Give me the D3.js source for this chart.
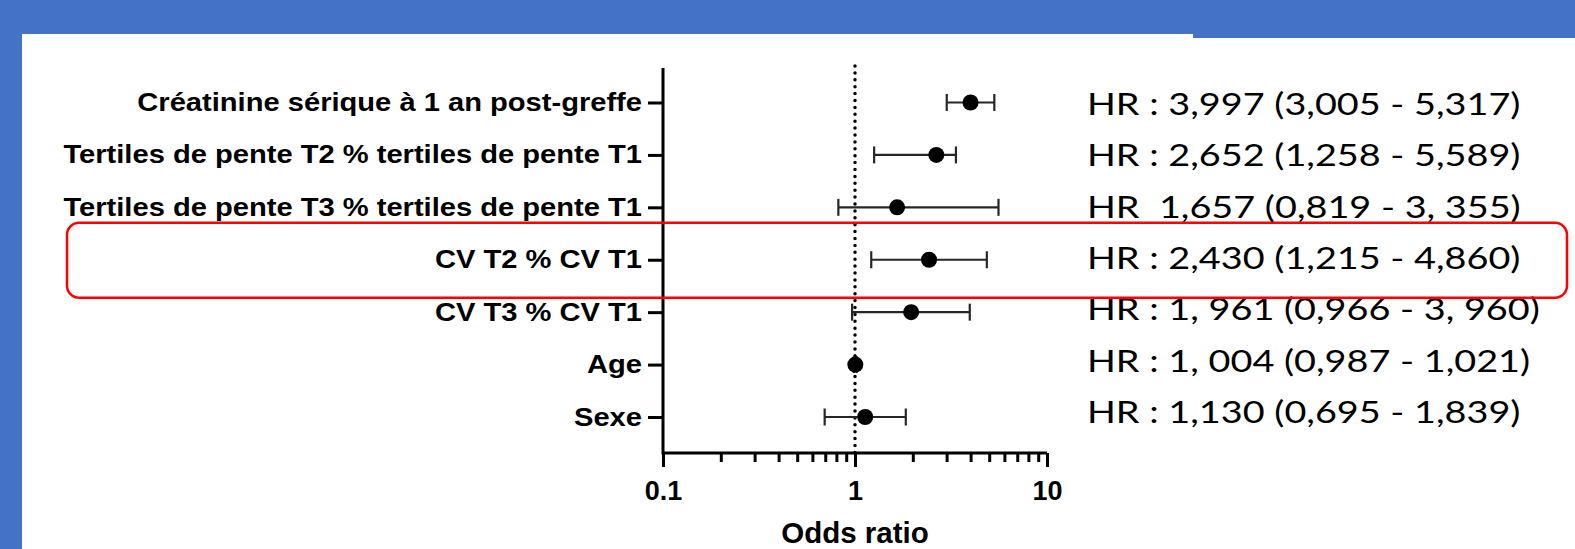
<!DOCTYPE html>
<html><head><meta charset="utf-8">
<script src="https://cdn.jsdelivr.net/npm/d3@7"></script>
<style>
html,body{margin:0;padding:0;background:#4472C4;}
svg{display:block;}
</style></head>
<body>
<svg id="c" width="1575" height="549"></svg>
<script>
// ---- data ----
const categories = [
  "Créatinine sérique à 1 an post-greffe",
  "Tertiles de pente T2 % tertiles de pente T1",
  "Tertiles de pente T3 % tertiles de pente T1",
  "CV T2 % CV T1",
  "CV T3 % CV T1",
  "Age",
  "Sexe"
];
const hr    = [3.997, 2.652, 1.657, 2.430, 1.961, 1.004, 1.130];
const lower = [3.005, 1.258, 0.819, 1.215, 0.966, 0.987, 0.695];
const upper = [5.317, 3.355, 5.589, 4.860, 3.960, 1.021, 1.839];
const hrLabels = [
  "HR : 3,997 (3,005 - 5,317)",
  "HR : 2,652 (1,258 - 5,589)",
  "HR  1,657 (0,819 - 3, 355)",
  "HR : 2,430 (1,215 - 4,860)",
  "HR : 1, 961 (0,966 - 3, 960)",
  "HR : 1, 004 (0,987 - 1,021)",
  "HR : 1,130 (0,695 - 1,839)"
];
const majorTicks = [0.1, 1, 10];
const minorTicks = [0.2,0.3,0.4,0.5,0.6,0.7,0.8,0.9,2,3,4,5,6,7,8,9];
const xTitle = "Odds ratio";
const highlighted = "CV T2 % CV T1";

// ---- drawing ----
const svg = d3.select("#c");
svg.append("rect").attr("x",22).attr("y",34).attr("width",1553).attr("height",515).attr("fill","#fff");
svg.append("rect").attr("x",1193).attr("y",34).attr("width",382).attr("height",4).attr("fill","#4472C4");

const x = d3.scaleLog().domain([0.1,10]).range([663,1047]);
const y = d3.scalePoint().domain(categories).range([102.5,417]);
const axisY0 = 68, axisY1 = 453;
const black = "#000";
const labScale = 1.165;

// y axis
const gy = svg.append("g").attr("transform",`translate(${x(0.1)},0)`)
  .call(d3.axisLeft(y).tickSize(15).tickPadding(7));
gy.select(".domain").remove();
gy.selectAll(".tick line").attr("stroke",black).attr("stroke-width",3);
gy.selectAll(".tick text").attr("fill",black)
  .style("font-family","'Liberation Sans', Arial, sans-serif")
  .style("font-weight","bold").style("font-size","25px")
  .attr("x",-21/labScale)
  .attr("transform",`scale(${labScale},1)`);
svg.append("line").attr("x1",x(0.1)).attr("x2",x(0.1)).attr("y1",axisY0).attr("y2",axisY1+1.5)
  .attr("stroke",black).attr("stroke-width",3);

// x axis
const gx = svg.append("g").attr("transform",`translate(0,${axisY1})`)
  .call(d3.axisBottom(x).tickValues(majorTicks).tickSize(14).tickPadding(14)
        .tickFormat(d=>String(d)));
gx.select(".domain").attr("stroke",black).attr("stroke-width",3).attr("d",`M${x(0.1)},0H${x(10)}`);
gx.selectAll(".tick line").attr("stroke",black).attr("stroke-width",3);
gx.selectAll(".tick text").attr("fill",black)
  .style("font-family","'Liberation Sans', Arial, sans-serif")
  .style("font-weight","bold").style("font-size","27px");
const gm = svg.append("g").attr("transform",`translate(0,${axisY1})`)
  .call(d3.axisBottom(x).tickValues(minorTicks).tickSize(9).tickFormat(""));
gm.select(".domain").remove();
gm.selectAll(".tick line").attr("stroke",black).attr("stroke-width",3);

svg.append("text").attr("x",x(1)).attr("y",543).attr("text-anchor","middle")
  .style("font-family","'Liberation Sans', Arial, sans-serif")
  .style("font-weight","bold").style("font-size","29.5px").text(xTitle);

// reference line at 1
svg.append("line").attr("x1",x(1)).attr("x2",x(1)).attr("y1",66).attr("y2",axisY1)
  .attr("stroke",black).attr("stroke-width",3.5).attr("stroke-linecap","round")
  .attr("stroke-dasharray","0 6.9");

// error bars
const rows = categories.map((c,i)=>({c, hr:hr[i], lo:lower[i], hi:upper[i], lab:hrLabels[i]}));
const eb = svg.append("g").attr("stroke","#262626").attr("stroke-width",2.2).attr("fill","none");
rows.forEach(r=>{
  const yy = y(r.c);
  eb.append("line").attr("x1",x(r.lo)).attr("x2",x(r.hi)).attr("y1",yy).attr("y2",yy);
  eb.append("line").attr("x1",x(r.lo)).attr("x2",x(r.lo)).attr("y1",yy-8.5).attr("y2",yy+8.5);
  eb.append("line").attr("x1",x(r.hi)).attr("x2",x(r.hi)).attr("y1",yy-8.5).attr("y2",yy+8.5);
});
svg.append("g").selectAll("circle").data(rows).join("circle")
  .attr("cx",d=>x(d.hr)).attr("cy",d=>y(d.c)).attr("r",8).attr("fill",black);

// HR text column
const hrScale = 1.22;
const ty = d3.scalePoint().domain(categories).range([115,423]);
svg.append("g").attr("transform",`translate(1087,0) scale(${hrScale},1)`)
  .selectAll("text").data(rows).join("text")
  .attr("x",0).attr("y",d=>ty(d.c))
  .style("font-family","Lato, 'Open Sans', sans-serif").style("font-size","31px")
  .style("white-space","pre").attr("fill","#000")
  .text(d=>d.lab);

// highlight box
const hy = y(highlighted);
svg.append("rect").attr("x",67).attr("y",hy-37).attr("width",1500).attr("height",75)
  .attr("rx",12).attr("fill","none").attr("stroke","#FF0000").attr("stroke-width",2.5);
</script>
</body></html>
